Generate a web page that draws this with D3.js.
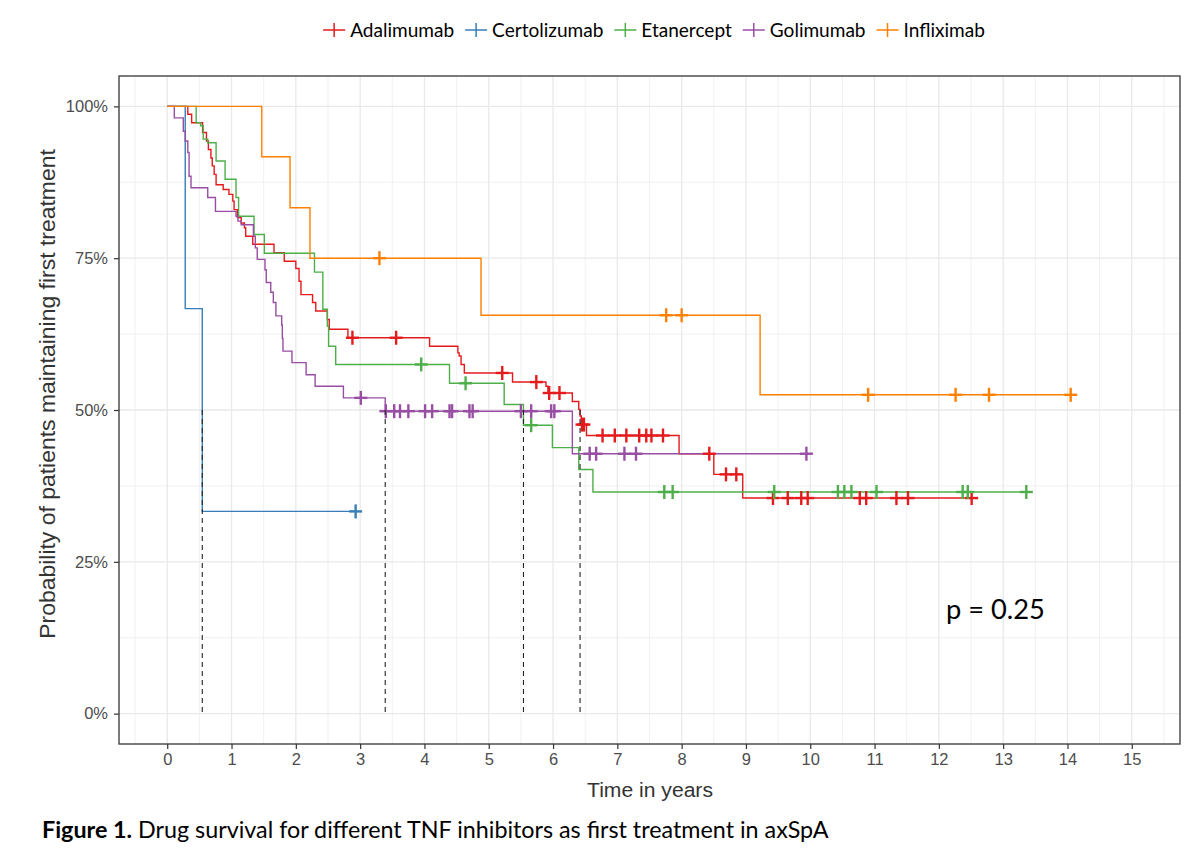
<!DOCTYPE html>
<html><head><meta charset="utf-8">
<script src="https://cdn.jsdelivr.net/npm/d3@7"></script>
<style>body{margin:0;background:#fff} svg{display:block}</style>
</head><body>
<svg id="c" width="1200" height="864"></svg>
<script>
// ---------- DATA ----------
const seriesNames = ["Adalimumab","Certolizumab","Etanercept","Golimumab","Infliximab"];
const seriesColors = ["#E41A1C","#377EB8","#4DAF4A","#984EA3","#FF7F00"];

const adalimumabEventTimes = [0.32,0.38,0.55,0.61,0.64,0.68,0.70,0.73,0.76,0.87,0.96,1.02,1.04,1.09,1.15,1.20,1.22,1.33,1.66,1.82,2.00,2.05,2.08,2.26,2.31,2.49,2.52,2.81,4.08,4.52,4.54,4.57,4.62,5.37,5.89,5.92,6.30,6.40,6.42,6.44,6.52,7.96,8.50,8.95];
const adalimumabSurvival   = [0.987,0.973,0.957,0.943,0.929,0.915,0.902,0.888,0.871,0.863,0.855,0.844,0.830,0.817,0.808,0.800,0.786,0.773,0.759,0.745,0.733,0.712,0.690,0.677,0.663,0.649,0.633,0.619,0.605,0.594,0.589,0.575,0.561,0.546,0.539,0.528,0.514,0.501,0.490,0.476,0.458,0.428,0.394,0.355];
const adalimumabCensorTimes = [2.88,3.56,5.21,5.74,5.94,6.10,6.45,6.48,6.77,6.96,7.14,7.34,7.45,7.53,7.71,8.43,8.69,8.85,9.42,9.65,9.86,9.96,10.77,10.87,11.34,11.52,12.51];

const certolizumabEventTimes = [0.28,0.545];
const certolizumabSurvival   = [0.667,0.333];
const certolizumabCensorTimes = [2.93];

const etanerceptEventTimes = [0.45,0.52,0.56,0.63,0.76,0.90,1.07,1.11,1.35,1.51,2.29,2.42,2.49,2.51,2.62,4.39,5.24,5.54,5.99,6.40,6.62];
const etanerceptSurvival   = [0.973,0.968,0.946,0.940,0.910,0.880,0.850,0.819,0.789,0.758,0.727,0.666,0.638,0.605,0.575,0.544,0.509,0.475,0.438,0.402,0.365];
const etanerceptCensorTimes = [3.95,4.64,5.66,7.73,7.86,9.44,10.43,10.53,10.64,11.03,12.37,12.45,13.36];

const golimumabEventTimes = [0.11,0.25,0.28,0.32,0.34,0.37,0.63,0.75,1.07,1.10,1.15,1.34,1.37,1.40,1.52,1.54,1.61,1.65,1.69,1.78,1.79,1.80,1.94,2.16,2.30,2.74,3.39,6.30];
const golimumabSurvival   = [0.981,0.959,0.943,0.924,0.885,0.866,0.850,0.827,0.819,0.811,0.805,0.786,0.767,0.748,0.731,0.710,0.694,0.677,0.655,0.640,0.618,0.597,0.578,0.558,0.539,0.520,0.498,0.428];
const golimumabCensorTimes = [3.01,3.40,3.53,3.62,3.75,4.01,4.12,4.39,4.43,4.70,4.75,5.50,5.66,5.97,6.02,6.57,6.67,7.11,7.29,9.94];

const infliximabEventTimes = [1.47,1.91,2.22,4.88,9.22];
const infliximabSurvival   = [0.917,0.833,0.750,0.656,0.525];
const infliximabCensorTimes = [3.30,7.76,8.00,10.90,12.26,12.78,14.05];

const medianTimes = [0.545,3.39,5.54,6.42];
const xTickValues = [0,1,2,3,4,5,6,7,8,9,10,11,12,13,14,15];
const yTickValues = [0,0.25,0.5,0.75,1];
const yTickLabels = ["0%","25%","50%","75%","100%"];
const xTitle = "Time in years";
const yTitle = "Probability of patients maintaining first treatment";
const pValueLabel = "p = 0.25";
const captionBold = "Figure 1.";
const captionRest = " Drug survival for different TNF inhibitors as first treatment in axSpA";

const series = [
  {name: seriesNames[0], color: seriesColors[0], t: adalimumabEventTimes, s: adalimumabSurvival, c: adalimumabCensorTimes},
  {name: seriesNames[1], color: seriesColors[1], t: certolizumabEventTimes, s: certolizumabSurvival, c: certolizumabCensorTimes},
  {name: seriesNames[2], color: seriesColors[2], t: etanerceptEventTimes, s: etanerceptSurvival, c: etanerceptCensorTimes},
  {name: seriesNames[3], color: seriesColors[3], t: golimumabEventTimes, s: golimumabSurvival, c: golimumabCensorTimes},
  {name: seriesNames[4], color: seriesColors[4], t: infliximabEventTimes, s: infliximabSurvival, c: infliximabCensorTimes}
];

// ---------- LAYOUT ----------
const svg = d3.select("#c");
const P = {left: 119, right: 1180, top: 76, bottom: 744};
const x = d3.scaleLinear().domain([-0.75, 15.75]).range([P.left, P.right]);
const y = d3.scaleLinear().domain([-0.05, 1.05]).range([P.bottom, P.top]);
const axisFont = "'Liberation Sans', Arial, sans-serif";
const textFont = "Lato, 'Open Sans', sans-serif";

function fitWidth(sel, target) {
  const w = sel.node().getComputedTextLength();
  const fs = parseFloat(sel.attr("font-size"));
  sel.attr("font-size", fs * target / w);
}

// grid
const grid = svg.append("g");
const minorX = d3.range(-0.5, 15.6, 1);
const minorY = [0.125, 0.375, 0.625, 0.875];
grid.selectAll("line.mx").data(minorX).join("line")
  .attr("x1", d => x(d)).attr("x2", d => x(d)).attr("y1", P.top).attr("y2", P.bottom)
  .attr("stroke", "#f1f1f1").attr("stroke-width", 1);
grid.selectAll("line.my").data(minorY).join("line")
  .attr("y1", d => y(d)).attr("y2", d => y(d)).attr("x1", P.left).attr("x2", P.right)
  .attr("stroke", "#f1f1f1").attr("stroke-width", 1);
grid.selectAll("line.gx").data(xTickValues).join("line")
  .attr("x1", d => x(d)).attr("x2", d => x(d)).attr("y1", P.top).attr("y2", P.bottom)
  .attr("stroke", "#e9e9e9").attr("stroke-width", 1.3);
grid.selectAll("line.gy").data(yTickValues).join("line")
  .attr("y1", d => y(d)).attr("y2", d => y(d)).attr("x1", P.left).attr("x2", P.right)
  .attr("stroke", "#e9e9e9").attr("stroke-width", 1.3);

// survival curves
const line = d3.line().x(d => x(d[0])).y(d => y(d[1])).curve(d3.curveStepAfter);
function survAt(sr, t) {
  let v = 1;
  for (let i = 0; i < sr.t.length; i++) if (sr.t[i] <= t) v = sr.s[i];
  return v;
}
const curves = svg.append("g");
series.forEach(sr => {
  const pts = [[0, 1]];
  sr.t.forEach((t, i) => pts.push([t, sr.s[i]]));
  const end = Math.max(d3.max(sr.c), d3.max(sr.t));
  pts.push([end, survAt(sr, end)]);
  curves.append("path").datum(pts).attr("d", line)
    .attr("fill", "none").attr("stroke", sr.color).attr("stroke-width", 1.4);
});
// censor marks
series.forEach(sr => {
  const g = curves.append("g").attr("stroke", sr.color).attr("stroke-width", 2.4);
  sr.c.forEach(t => {
    const cx = x(t), cy = y(survAt(sr, t));
    g.append("line").attr("x1", cx - 6.5).attr("x2", cx + 6.5).attr("y1", cy).attr("y2", cy);
    g.append("line").attr("x1", cx).attr("x2", cx).attr("y1", cy - 7).attr("y2", cy + 7);
  });
});

// median lines
svg.append("g").selectAll("line").data(medianTimes).join("line")
  .attr("x1", d => x(d)).attr("x2", d => x(d)).attr("y1", y(0.5)).attr("y2", y(0))
  .attr("stroke", "#222").attr("stroke-width", 1.1).attr("stroke-dasharray", "5,4");

// panel border
svg.append("rect").attr("x", P.left).attr("y", P.top)
  .attr("width", P.right - P.left).attr("height", P.bottom - P.top)
  .attr("fill", "none").attr("stroke", "#444").attr("stroke-width", 1.4);

// axes
const xAxis = svg.append("g").attr("transform", `translate(0,${P.bottom})`)
  .call(d3.axisBottom(x).tickValues(xTickValues).tickSize(5).tickPadding(4).tickFormat(d3.format("d")));
const yAxis = svg.append("g").attr("transform", `translate(${P.left},0)`)
  .call(d3.axisLeft(y).tickValues(yTickValues).tickSize(5).tickPadding(6).tickFormat((d, i) => yTickLabels[i]));
[xAxis, yAxis].forEach(a => {
  a.select(".domain").remove();
  a.selectAll(".tick line").attr("stroke", "#333").attr("stroke-width", 1.2);
  a.selectAll(".tick text").attr("fill", "#4d4d4d").attr("font-family", axisFont).attr("font-size", 16.5);
});

// axis titles
const xt = svg.append("text").attr("x", 650).attr("y", 797).attr("text-anchor", "middle")
  .attr("font-family", axisFont).attr("font-size", 20).attr("fill", "#333").text(xTitle);
fitWidth(xt, 126);
const yt = svg.append("text").attr("transform", "translate(47,394) rotate(-90)")
  .attr("text-anchor", "middle").attr("dominant-baseline", "central")
  .attr("font-family", axisFont).attr("font-size", 19).attr("fill", "#333").text(yTitle);
fitWidth(yt, 490);

// p value
const pv = svg.append("text").attr("x", 946).attr("y", 619)
  .attr("font-family", textFont).attr("font-size", 28).attr("fill", "#000").text(pValueLabel);
fitWidth(pv, 99);

// legend
const lg = svg.append("g");
const lgY = 30;
const items = [];
series.forEach(sr => {
  const g = lg.append("g");
  g.append("line").attr("x1", -11).attr("x2", 11).attr("y1", 0).attr("y2", 0).attr("stroke", sr.color).attr("stroke-width", 1.5);
  g.append("line").attr("x1", 0).attr("x2", 0).attr("y1", -7).attr("y2", 7).attr("stroke", sr.color).attr("stroke-width", 1.5);
  const t = g.append("text").attr("x", 16).attr("dy", "0.35em").attr("font-family", textFont)
    .attr("font-size", 18).attr("fill", "#000").text(sr.name);
  items.push({g, t});
});
// scale legend font to match width of first label
const w0 = items[0].t.node().getComputedTextLength();
const lfs = 18 * 104 / w0;
items.forEach(it => it.t.attr("font-size", lfs));
let cx = 0;
const pos = [];
items.forEach(it => {
  pos.push(cx);
  cx += 16 + it.t.node().getComputedTextLength() + 22;
});
const total = cx - 22 + 11;
const startX = 654 - total / 2 + 11;
items.forEach((it, i) => it.g.attr("transform", `translate(${startX + pos[i]},${lgY})`));

// caption
const cap = svg.append("text").attr("x", 42).attr("y", 838)
  .attr("font-family", textFont).attr("font-size", 22).attr("fill", "#000");
cap.append("tspan").attr("font-weight", "bold").text(captionBold);
cap.append("tspan").text(captionRest);
fitWidth(cap, 787);
</script>
</body></html>
